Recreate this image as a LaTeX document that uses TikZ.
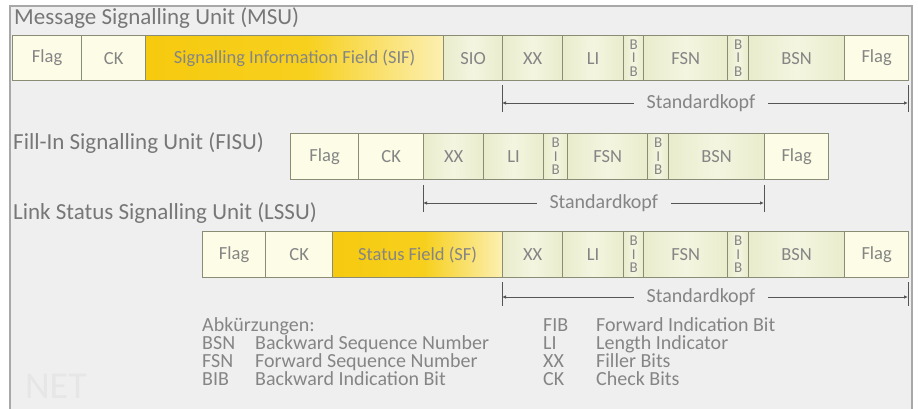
\documentclass[tikz,border=0pt]{standalone}
\usepackage{fontspec}
\setmainfont{Carlito}
\usetikzlibrary{arrows.meta}

\definecolor{bg}{HTML}{EFEFEF}
\definecolor{frame}{HTML}{A8A8A8}
\definecolor{cellline}{HTML}{8A8C76}
\definecolor{txt}{HTML}{858585}
\definecolor{titletxt}{HTML}{777777}
\definecolor{cream}{HTML}{FDFCE6}
\definecolor{greenA}{HTML}{DDE4B8}
\definecolor{greenB}{HTML}{F4F5E0}
\definecolor{goldA}{HTML}{F5C400}
\definecolor{goldB}{HTML}{F7D01E}
\definecolor{goldPale}{HTML}{FDF6D2}
\definecolor{dimline}{HTML}{555555}
\definecolor{netgray}{HTML}{E6E6E6}

\pgfdeclarehorizontalshading{goldshade}{100bp}{color(0bp)=(goldA); color(52bp)=(goldB); color(80bp)=(goldPale); color(100bp)=(goldA)}
\pgfdeclarehorizontalshading{greenshade}{100bp}{color(0bp)=(greenA); color(50bp)=(greenB); color(100bp)=(greenA)}

% one field of a signal unit: name, style, x-left, x-right, y-top, y-bottom, text
\newcommand\fieldat[7]{%
  \node[cell,#2,minimum width={#4pt-#3pt},minimum height={#6pt-#5pt}] (#1) at (#3,#5) {#7};}
% abbreviation column of the legend
\newcommand\abbr[1]{\makebox[53pt][l]{#1}}
% fixed line pitch inside the legend blocks
\newcommand\legpitch{\lineskiplimit=-20pt\relax\rule{0pt}{15pt}}

\tikzset{
  cell/.style={draw=cellline, line width=1.3pt, anchor=north west, inner sep=0pt,
    font=\fontsize{18.5}{18.5}\selectfont, text=txt},
  plain/.style={fill=cream},
  green/.style={shading=greenshade},
  gold/.style={shading=goldshade},
  bits/.style={shading=greenshade, font=\fontsize{15}{13.5}\selectfont, align=center},
  title/.style={anchor=west, font=\fontsize{23}{23}\selectfont, text=titletxt, inner sep=0pt},
  legblock/.style={anchor=north west, align=left, inner sep=0pt, text=txt,
    font=\fontsize{20}{18}\selectfont},
  dim/.style={draw=dimline, line width=0.8pt, {Latex[length=4pt,width=3.5pt]}-{Latex[length=4pt,width=3.5pt]}},
  dimtick/.style={draw=dimline, line width=0.8pt},
  dimlabel/.style={fill=bg, inner xsep=13pt, inner ysep=1pt, font=\fontsize{20}{20}\selectfont, text=txt},
}

\begin{document}
\begin{tikzpicture}[x=1pt,y=-1pt]
  \useasboundingbox (0,0) rectangle (918,409);
  % panel
  \fill[white] (0,0) rectangle (918,409);
  \fill[bg] (10,6) rectangle (912,409);
  \draw[frame, line width=1.2pt] (10,409) -- (10,6) -- (912,6) -- (912,409);

  % faint logo
  \node[font=\fontsize{38}{38}\selectfont, text=netgray] (logo) at (56,386) {NET};

  % ---- Message Signalling Unit ----
  \node[title] (msuT) at (14,18) {Message Signalling Unit (MSU)};
  \fieldat{mFlagA}{plain}{12}{81}{35}{80}{Flag}
  \fieldat{mCK}{plain}{81}{145}{35}{80}{CK}
  \fieldat{mSIF}{gold}{145}{443}{35}{80}{Signalling Information Field (SIF)}
  \fieldat{mSIO}{green}{443}{502}{35}{80}{SIO}
  \fieldat{mXX}{green}{502}{562}{35}{80}{XX}
  \fieldat{mLI}{green}{562}{623}{35}{80}{LI}
  \fieldat{mBIBa}{bits}{623}{643}{35}{80}{B\\I\\B}
  \fieldat{mFSN}{green}{643}{727}{35}{80}{FSN}
  \fieldat{mBIBb}{bits}{727}{748}{35}{80}{B\\I\\B}
  \fieldat{mBSN}{green}{748}{844}{35}{80}{BSN}
  \fieldat{mFlagB}{plain}{844}{908}{35}{80}{Flag}

  \coordinate (mL) at (502,103);
  \coordinate (mR) at (908,103);
  \draw[dimtick] ([yshift=18pt]mL) -- ([yshift=-9pt]mL);
  \draw[dimtick] ([yshift=18pt]mR) -- ([yshift=-9pt]mR);
  \draw[dim] (mL) -- node[dimlabel, pos=0.49] (mStd) {Standardkopf} (mR);

  % ---- Fill-In Signalling Unit ----
  \node[title] (fisuT) at (13,143) {Fill-In Signalling Unit (FISU)};
  \fieldat{fFlagA}{plain}{290}{358}{133}{179}{Flag}
  \fieldat{fCK}{plain}{358}{423}{133}{179}{CK}
  \fieldat{fXX}{green}{423}{483}{133}{179}{XX}
  \fieldat{fLI}{green}{483}{543}{133}{179}{LI}
  \fieldat{fBIBa}{bits}{543}{567}{133}{179}{B\\I\\B}
  \fieldat{fFSN}{green}{567}{647}{133}{179}{FSN}
  \fieldat{fBIBb}{bits}{647}{668}{133}{179}{B\\I\\B}
  \fieldat{fBSN}{green}{668}{764}{133}{179}{BSN}
  \fieldat{fFlagB}{plain}{764}{828}{133}{179}{Flag}

  \coordinate (fL) at (423,203);
  \coordinate (fR) at (764,203);
  \draw[dimtick] ([yshift=18pt]fL) -- ([yshift=-9pt]fL);
  \draw[dimtick] ([yshift=18pt]fR) -- ([yshift=-9pt]fR);
  \draw[dim] (fL) -- node[dimlabel, pos=0.53] (fStd) {Standardkopf} (fR);

  % ---- Link Status Signalling Unit ----
  \node[title] (lssuT) at (13,213) {Link Status Signalling Unit (LSSU)};
  \fieldat{lFlagA}{plain}{202}{265}{231}{277}{Flag}
  \fieldat{lCK}{plain}{265}{332}{231}{277}{CK}
  \fieldat{lSF}{gold}{332}{502}{231}{277}{Status Field (SF)}
  \fieldat{lXX}{green}{502}{562}{231}{277}{XX}
  \fieldat{lLI}{green}{562}{623}{231}{277}{LI}
  \fieldat{lBIBa}{bits}{623}{643}{231}{277}{B\\I\\B}
  \fieldat{lFSN}{green}{643}{727}{231}{277}{FSN}
  \fieldat{lBIBb}{bits}{727}{748}{231}{277}{B\\I\\B}
  \fieldat{lBSN}{green}{748}{844}{231}{277}{BSN}
  \fieldat{lFlagB}{plain}{844}{908}{231}{277}{Flag}

  \coordinate (lL) at (502,297);
  \coordinate (lR) at (908,297);
  \draw[dimtick] ([yshift=15pt]lL) -- ([yshift=-9pt]lL);
  \draw[dimtick] ([yshift=15pt]lR) -- ([yshift=-9pt]lR);
  \draw[dim] (lL) -- node[dimlabel, pos=0.49] (lStd) {Standardkopf} (lR);

  % ---- abbreviations ----
  \node[legblock] (legL) at (202,316) {\legpitch Abkürzungen:\\
    \abbr{BSN}Backward Sequence Number\\
    \abbr{FSN}Forward Sequence Number\\
    \abbr{BIB}Backward Indication Bit};
  \node[legblock] (legR) at (543,316) {\legpitch\abbr{FIB}Forward Indication Bit\\
    \abbr{LI}Length Indicator\\
    \abbr{XX}Filler Bits\\
    \abbr{CK}Check Bits};
\end{tikzpicture}
\end{document}
